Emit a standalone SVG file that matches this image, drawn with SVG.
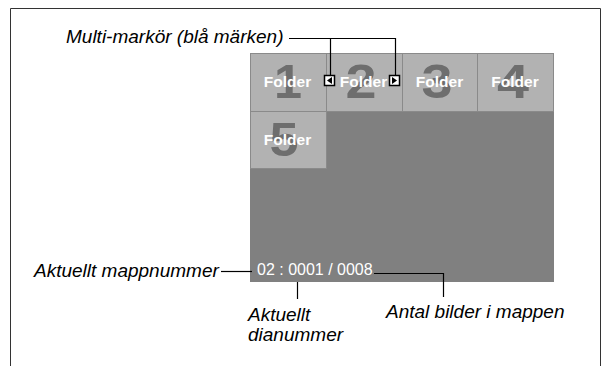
<svg xmlns="http://www.w3.org/2000/svg" width="610" height="366" viewBox="0 0 610 366">
<style>
.lbl{font-family:"Liberation Sans",Arial,sans-serif;font-style:italic;font-size:19px;fill:#000}
.tile{fill:#b2b2b2;stroke:#8a8a8a;stroke-width:1}
.num{font-family:"Liberation Sans",Arial,sans-serif;font-weight:bold;font-size:48px;fill:#6e6e6e;text-anchor:middle}
.fld{font-family:"Liberation Sans",Arial,sans-serif;font-weight:bold;font-size:15.5px;fill:#fff;text-anchor:middle}
.ln{fill:none;stroke:#000;stroke-width:1.2}
.mk{fill:#fff;stroke:#000;stroke-width:1.5}
</style>
<rect width="610" height="366" fill="#fff"/>
<path d="M10.5 366 V8.5 H600.5 V366" fill="none" stroke="#333" stroke-width="1"/>
<g id="panel">
<rect x="250" y="53" width="304" height="229" fill="#808080"/>
</g>
<g id="folder1"><rect class="tile" x="250.5" y="53.5" width="76" height="58"/><text class="num" x="288" y="98" textLength="28" lengthAdjust="spacingAndGlyphs">1</text><text class="fld" x="287.5" y="87">Folder</text></g>
<g id="folder2"><rect class="tile" x="326.5" y="53.5" width="76" height="58"/><text class="num" x="361" y="98" textLength="31" lengthAdjust="spacingAndGlyphs">2</text><text class="fld" x="363.5" y="87">Folder</text></g>
<g id="folder3"><rect class="tile" x="402.5" y="53.5" width="75" height="58"/><text class="num" x="437" y="98" textLength="31" lengthAdjust="spacingAndGlyphs">3</text><text class="fld" x="439.5" y="87">Folder</text></g>
<g id="folder4"><rect class="tile" x="477.5" y="53.5" width="76" height="58"/><text class="num" x="513" y="98" textLength="32" lengthAdjust="spacingAndGlyphs">4</text><text class="fld" x="515" y="87">Folder</text></g>
<g id="folder5"><rect class="tile" x="250.5" y="111.5" width="76" height="57"/><text class="num" x="284" y="156" textLength="29" lengthAdjust="spacingAndGlyphs">5</text><text class="fld" x="287.5" y="145">Folder</text></g>
<g id="marker-left"><rect class="mk" x="324.5" y="75.5" width="10" height="10"/><path d="M327 80.5 L332 77 V84 Z" fill="#000"/></g>
<g id="marker-right"><rect class="mk" x="389.5" y="75.5" width="10" height="10"/><path d="M397 80.5 L392 77 V84 Z" fill="#000"/></g>
<g id="status"><text x="257" y="275" font-family="'Liberation Sans',Arial,sans-serif" font-size="16" fill="#fff">02 : 0001 / 0008</text></g>
<g id="labels">
<text class="lbl" x="66" y="43">Multi-markör (blå märken)</text>
<text class="lbl" x="34" y="277">Aktuellt mappnummer</text>
<text class="lbl" x="248" y="321">Aktuellt</text>
<text class="lbl" x="248" y="341">dianummer</text>
<text class="lbl" x="386" y="318">Antal bilder i mappen</text>
</g>
<g id="connectors">
<path class="ln" d="M289 38.5 H395.5 V75"/>
<path class="ln" d="M330.5 38.5 V75"/>
<path class="ln" d="M221 271.5 H252"/>
<path class="ln" d="M374 273.5 H443.5 V297"/>
<path class="ln" d="M297.5 282 V299"/>
</g>
</svg>
